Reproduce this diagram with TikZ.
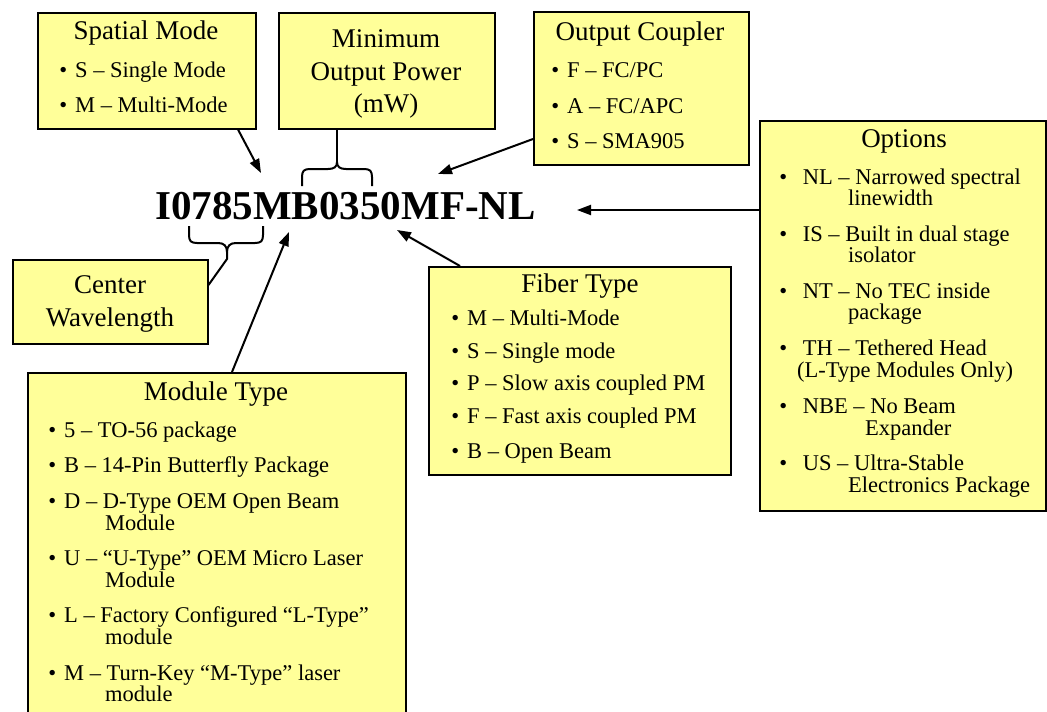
\documentclass[tikz,border=0pt]{standalone}
\usepackage{fontspec}
\setmainfont{Liberation Serif}
\usetikzlibrary{arrows.meta}
\definecolor{boxfill}{HTML}{FFFF99}
\newcommand\mybul[1][8pt]{\llap{•\hspace{#1}}}
\begin{document}
\begin{tikzpicture}[x=1pt,y=-1pt,
  box/.style={draw=black, line width=1.5pt, fill=boxfill, rectangle, inner sep=0pt, anchor=north west},
  ttl/.style={font=\fontsize{27}{27}\selectfont, inner sep=0pt, anchor=base},
  itm/.style={font=\fontsize{22.5}{22.5}\selectfont, inner sep=0pt, anchor=base west},
  conn/.style={line width=2pt, draw=black},
  arr/.style={conn, -{Triangle[length=14pt,width=10pt]}},
  codestyle/.style={font=\fontsize{41}{41}\selectfont\bfseries, inner sep=0pt, anchor=base}]
\useasboundingbox (0,0) rectangle (1047,712);
\clip (0,0) rectangle (1047,712);
\fill[white] (0,0) rectangle (1047,712);

% boxes
\node[box, minimum width=218pt, minimum height=116pt] (sm) at (37,12) {};
\node[box, minimum width=216pt, minimum height=116pt] (mop) at (278,12) {};
\node[box, minimum width=215pt, minimum height=153pt] (oc) at (533,11) {};
\node[box, minimum width=286pt, minimum height=390pt] (opt) at (759,120) {};
\node[box, minimum width=195pt, minimum height=84pt] (cw) at (12,259) {};
\node[box, minimum width=378pt, minimum height=360pt] (mt) at (27,372) {};
\node[box, minimum width=302pt, minimum height=208pt] (ft) at (428,266) {};

% main code
\node[codestyle] (code) at (345.5,219) {I0785MB0350MF-NL};

% Spatial Mode
\node[ttl] (smt) at (146,39) {Spatial Mode};
\node[itm] (sm1) at (75,77) {\mybul S – Single Mode};
\node[itm] (sm2) at (75,112) {\mybul M – Multi-Mode};

% Minimum Output Power
\node[ttl] (mop1) at (386,47) {Minimum};
\node[ttl] (mop2) at (386,80) {Output Power};
\node[ttl] (mop3) at (386,112) {(mW)};

% Output Coupler
\node[ttl] (oct) at (640,40) {Output Coupler};
\node[itm] (oc1) at (567,77) {\mybul F – FC/PC};
\node[itm] (oc2) at (567,113) {\mybul A – FC/APC};
\node[itm] (oc3) at (567,148) {\mybul S – SMA905};

% Options
\node[ttl] (optt) at (904,147) {Options};
\node[itm] (o1a) at (797,184) {\mybul[10pt] NL – Narrowed spectral};
\node[itm] (o1b) at (848,205) {linewidth};
\node[itm] (o2a) at (797,241) {\mybul[10pt] IS – Built in dual stage};
\node[itm] (o2b) at (848,262) {isolator};
\node[itm] (o3a) at (797,298) {\mybul[10pt] NT – No TEC inside};
\node[itm] (o3b) at (848,319) {package};
\node[itm] (o4a) at (797,355) {\mybul[10pt] TH – Tethered Head};
\node[itm] (o4b) at (797,377) {(L-Type Modules Only)};
\node[itm] (o5a) at (797,413) {\mybul[10pt] NBE – No Beam};
\node[itm] (o5b) at (865,435) {Expander};
\node[itm] (o6a) at (797,470) {\mybul[10pt] US – Ultra-Stable};
\node[itm] (o6b) at (848,492) {Electronics Package};

% Center Wavelength
\node[ttl] (cw1) at (110,293) {Center};
\node[ttl] (cw2) at (110,326) {Wavelength};

% Module Type
\node[ttl] (mtt) at (216,400) {Module Type};
\node[itm] (m1) at (64,437) {\mybul 5 – TO-56 package};
\node[itm] (m2) at (64,472) {\mybul B – 14-Pin Butterfly Package};
\node[itm] (m3a) at (64,508) {\mybul D – D-Type OEM Open Beam};
\node[itm] (m3b) at (105,530) {Module};
\node[itm] (m4a) at (64,565) {\mybul U – “U-Type” OEM Micro Laser};
\node[itm] (m4b) at (105,587) {Module};
\node[itm] (m5a) at (64,622) {\mybul L – Factory Configured “L-Type”};
\node[itm] (m5b) at (105,644) {module};
\node[itm] (m6a) at (64,680) {\mybul M – Turn-Key “M-Type” laser};
\node[itm] (m6b) at (105,701) {module};

% Fiber Type
\node[ttl] (ftt) at (580,292) {Fiber Type};
\node[itm] (f1) at (467,325) {\mybul M – Multi-Mode};
\node[itm] (f2) at (467,358) {\mybul S – Single mode};
\node[itm] (f3) at (467,390) {\mybul P – Slow axis coupled PM};
\node[itm] (f4) at (467,423) {\mybul F – Fast axis coupled PM};
\node[itm] (f5) at (467,458) {\mybul B – Open Beam};

% tips
\coordinate (tipS) at (261,173);
\coordinate (tipOC) at (438,174);
\coordinate (tipOpt) at (577,210);
\coordinate (tipMT) at (289,232);
\coordinate (tipFT) at (397,230);
\coordinate (braceUp) at (337,162);
\coordinate (braceDn) at (227,252);

% braces
\draw[conn] (302,186) -- (302,177) .. controls (302,171) and (304,169) .. (310,169) -- (328,169) .. controls (334,169) and (337,167) .. (braceUp) .. controls (337,167) and (340,169) .. (346,169) -- (364,169) .. controls (370,169) and (372,171) .. (372,177) -- (372,186);
\draw[conn] (189,226) -- (189,235) .. controls (189,241) and (191,243) .. (197,243) -- (218,243) .. controls (224,243) and (227,246) .. (braceDn) .. controls (227,246) and (230,243) .. (236,243) -- (255,243) .. controls (261,243) and (263,241) .. (263,235) -- (263,226);

% connectors
\draw[arr] ([xshift=201pt]sm.south west) -- (tipS);
\draw[conn] ([xshift=59pt]mop.south west) -- (braceUp);
\draw[arr] ([yshift=-128pt]oc.north west) -- (tipOC);
\draw[arr] ([yshift=-90pt]opt.north west) -- (tipOpt);
\draw[conn] (braceDn) -- (227,259) -- ([yshift=-26pt]cw.north east);
\draw[arr] ([xshift=205pt]mt.north west) -- (tipMT);
\draw[arr] ([xshift=32pt]ft.north west) -- (tipFT);
\end{tikzpicture}
\end{document}
